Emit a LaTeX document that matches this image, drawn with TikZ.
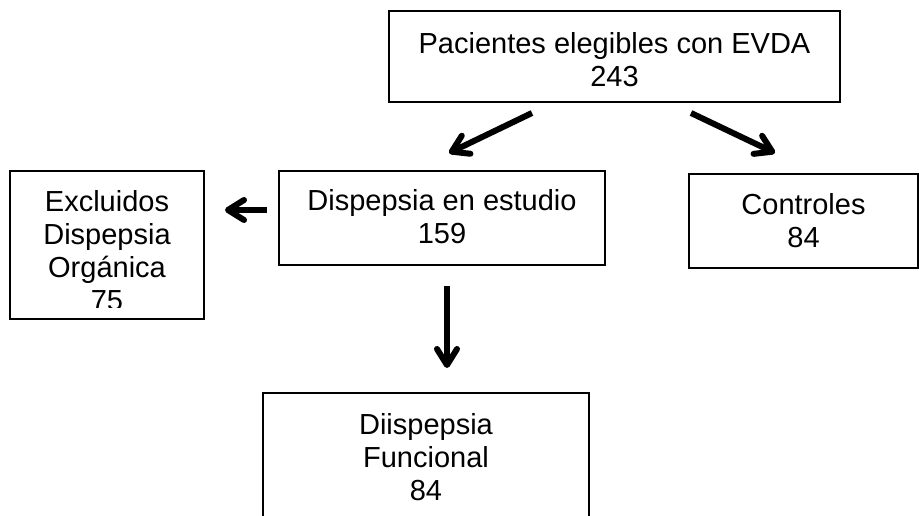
\documentclass[tikz,border=0pt]{standalone}
\usepackage{fontspec}
\setmainfont{Liberation Sans}
\usetikzlibrary{arrows.meta}
\begin{document}
\begin{tikzpicture}[x=1pt,y=-1pt,
  box/.style={draw,line width=1.6pt,inner sep=0pt},
  txt/.style={align=center,font=\fontsize{29}{33}\selectfont,inner sep=0pt},
  arr/.style={line width=6pt,-{Straight Barb[length=16pt,width=20pt,round]}}]
\useasboundingbox (0,0) rectangle (919,516);
\fill[white] (0,0) rectangle (919,516);
% boxes
\node[box,minimum width=451pt,minimum height=91pt] (top) at (614.5,56.5) {};
\node[txt] (toptxt) at (614.5,60) {Pacientes elegibles con EVDA\\243};
\node[box,minimum width=326pt,minimum height=94pt] (disp) at (442,218) {};
\node[txt] (disptxt) at (442,217) {Dispepsia en estudio\\159};
\node[box,minimum width=229pt,minimum height=94pt] (ctrl) at (803.5,221) {};
\node[txt] (ctrltxt) at (803.5,220.5) {Controles\\84};
\node[box,minimum width=194pt,minimum height=148pt] (excl) at (107,245) {};
\begin{scope}
  \clip (12,173) rectangle (202,307);
  \node[txt] (excltxt) at (107,251) {Excluidos\\Dispepsia\\Orgánica\\75};
\end{scope}
\node[box,minimum width=326pt,minimum height=160pt] (func) at (426,473) {};
\node[txt] (functxt) at (426,457) {Diispepsia\\Funcional\\84};
% arrows
\coordinate (a1s) at (532,113); \coordinate (a1e) at (449,153);
\coordinate (a2s) at (691,113); \coordinate (a2e) at (775,153);
\coordinate (a3s) at (267,210); \coordinate (a3e) at (225,210);
\coordinate (a4s) at (447,286); \coordinate (a4e) at (447,368);
\draw[arr] (a1s) -- (a1e);
\draw[arr] (a2s) -- (a2e);
\draw[arr] (a3s) -- (a3e);
\draw[arr] (a4s) -- (a4e);
\end{tikzpicture}
\end{document}
